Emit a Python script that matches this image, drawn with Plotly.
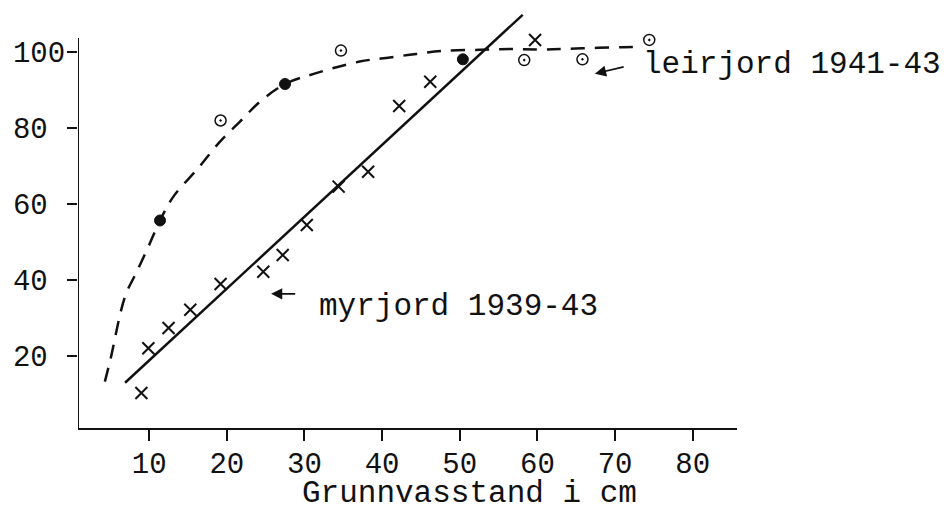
import plotly.graph_objects as go

# ---- data ----
myr_x = [9.0, 9.9, 12.5, 15.3, 19.2, 24.7, 27.2, 30.3, 34.4, 38.2, 42.2, 46.2, 59.7]
myr_y = [10.3, 22.1, 27.4, 32.2, 39.0, 42.2, 46.6, 54.5, 64.6, 68.5, 85.8, 92.2, 103.2]

myr_line_x = [6.9, 58.1]
myr_line_y = [13.0, 109.8]

leir_open_x = [19.2, 34.7, 58.3, 65.8, 74.4]
leir_open_y = [82.0, 100.4, 97.9, 98.1, 103.2]
leir_filled_x = [11.4, 27.5, 50.4]
leir_filled_y = [55.7, 91.6, 98.1]

leir_curve_x = [4.3, 5.0, 6.9, 8.4, 9.9, 11.4, 13.1, 16.5, 19.1, 21.7, 24.3, 27.5, 31.4, 37.1, 41.0, 44.4, 47.8, 52.6, 56.8, 61.0, 65.7, 71.0, 73.6]
leir_curve_y = [13.3, 19.0, 35.7, 42.2, 48.8, 55.7, 61.9, 69.9, 76.4, 81.7, 87.0, 91.6, 94.4, 97.5, 98.6, 99.5, 100.3, 100.6, 100.8, 100.7, 101.0, 101.3, 101.4]

x_tick_vals = [10, 20, 30, 40, 50, 60, 70, 80]
y_tick_vals = [20, 40, 60, 80, 100]
y_tick_text = ["20\u00a0", "40\u00a0", "60\u00a0", "80\u00a0", "100"]

x_title = "Grunnvasstand i cm"
label_myr = "myrjord 1939-43"
label_leir = "leirjord 1941-43"

FONT = "Liberation Mono, Courier New, monospace"
INK = "#111111"
FS_TEXT = 31
FS_TICK = 29
X0, Y0 = 0.84, 1.1

fig = go.Figure()

fig.add_trace(go.Scatter(
    x=leir_curve_x, y=leir_curve_y, mode="lines", line_shape="spline",
    line=dict(color=INK, width=2.5, dash="14px,10px"), hoverinfo="skip", showlegend=False))
fig.add_trace(go.Scatter(
    x=myr_line_x, y=myr_line_y, mode="lines",
    line=dict(color=INK, width=2.5), hoverinfo="skip", showlegend=False))
fig.add_trace(go.Scatter(
    x=myr_x, y=myr_y, mode="markers", showlegend=False,
    marker=dict(symbol="x-thin", size=12, line=dict(color=INK, width=2))))
fig.add_trace(go.Scatter(
    x=leir_open_x, y=leir_open_y, mode="markers", showlegend=False,
    marker=dict(symbol="circle-open-dot", size=11, color=INK, line=dict(color=INK, width=1.5))))
fig.add_trace(go.Scatter(
    x=leir_filled_x, y=leir_filled_y, mode="markers", showlegend=False,
    marker=dict(symbol="circle", size=11, color=INK, line=dict(color=INK, width=1))))

# y axis line (stops below the top of the plot area, as in the original)
fig.add_shape(type="line", xref="x", yref="y", x0=X0, x1=X0, y0=Y0, y1=103.7,
              line=dict(color=INK, width=2))

annotations = [
    dict(x=25.7, y=36.4, ax=29.0, ay=36.4, xref="x", yref="y", axref="x", ayref="y",
         text="", showarrow=True, arrowhead=2, arrowsize=1.4, arrowwidth=1.6, arrowcolor=INK),
    dict(x=31.6, y=33.0, xref="x", yref="y", text=label_myr, showarrow=False,
         xanchor="left", yanchor="middle", font=dict(family=FONT, size=FS_TEXT, color=INK)),
    dict(x=67.4, y=94.3, ax=71.3, ay=96.2, xref="x", yref="y", axref="x", ayref="y",
         text="", showarrow=True, arrowhead=2, arrowsize=1.4, arrowwidth=1.6, arrowcolor=INK),
    dict(x=73.3, y=96.8, xref="x", yref="y", text=label_leir, showarrow=False,
         xanchor="left", yanchor="middle", font=dict(family=FONT, size=FS_TEXT, color=INK)),
    dict(x=51.2, y=-0.157, xref="x", yref="paper", text=x_title, showarrow=False,
         xanchor="center", yanchor="middle", font=dict(family=FONT, size=FS_TEXT, color=INK)),
]

# the page body has an 8px margin, so the figure is sized 942x503 to fit the 950x511 window
fig.update_layout(
    width=942, height=503, autosize=False,
    margin=dict(l=70, r=213, t=0, b=83),
    paper_bgcolor="white", plot_bgcolor="white",
    font=dict(family=FONT, size=FS_TICK, color=INK),
    annotations=annotations,
    xaxis=dict(range=[X0, 85.7], tickvals=x_tick_vals, ticks="outside", ticklen=11,
               tickwidth=2, tickcolor=INK, showline=True, linecolor=INK, linewidth=2,
               showgrid=False, zeroline=False, automargin=False, ticklabelstandoff=-3,
               tickfont=dict(family=FONT, size=FS_TICK, color=INK)),
    yaxis=dict(range=[Y0, 111.6], tickvals=y_tick_vals, ticktext=y_tick_text,
               ticks="outside", ticklen=10, tickwidth=2, tickcolor=INK,
               showline=False, showgrid=False, zeroline=False, automargin=False,
               ticklabelstandoff=-4,
               tickfont=dict(family=FONT, size=FS_TICK, color=INK)),
)

fig.write_html("out.html")
